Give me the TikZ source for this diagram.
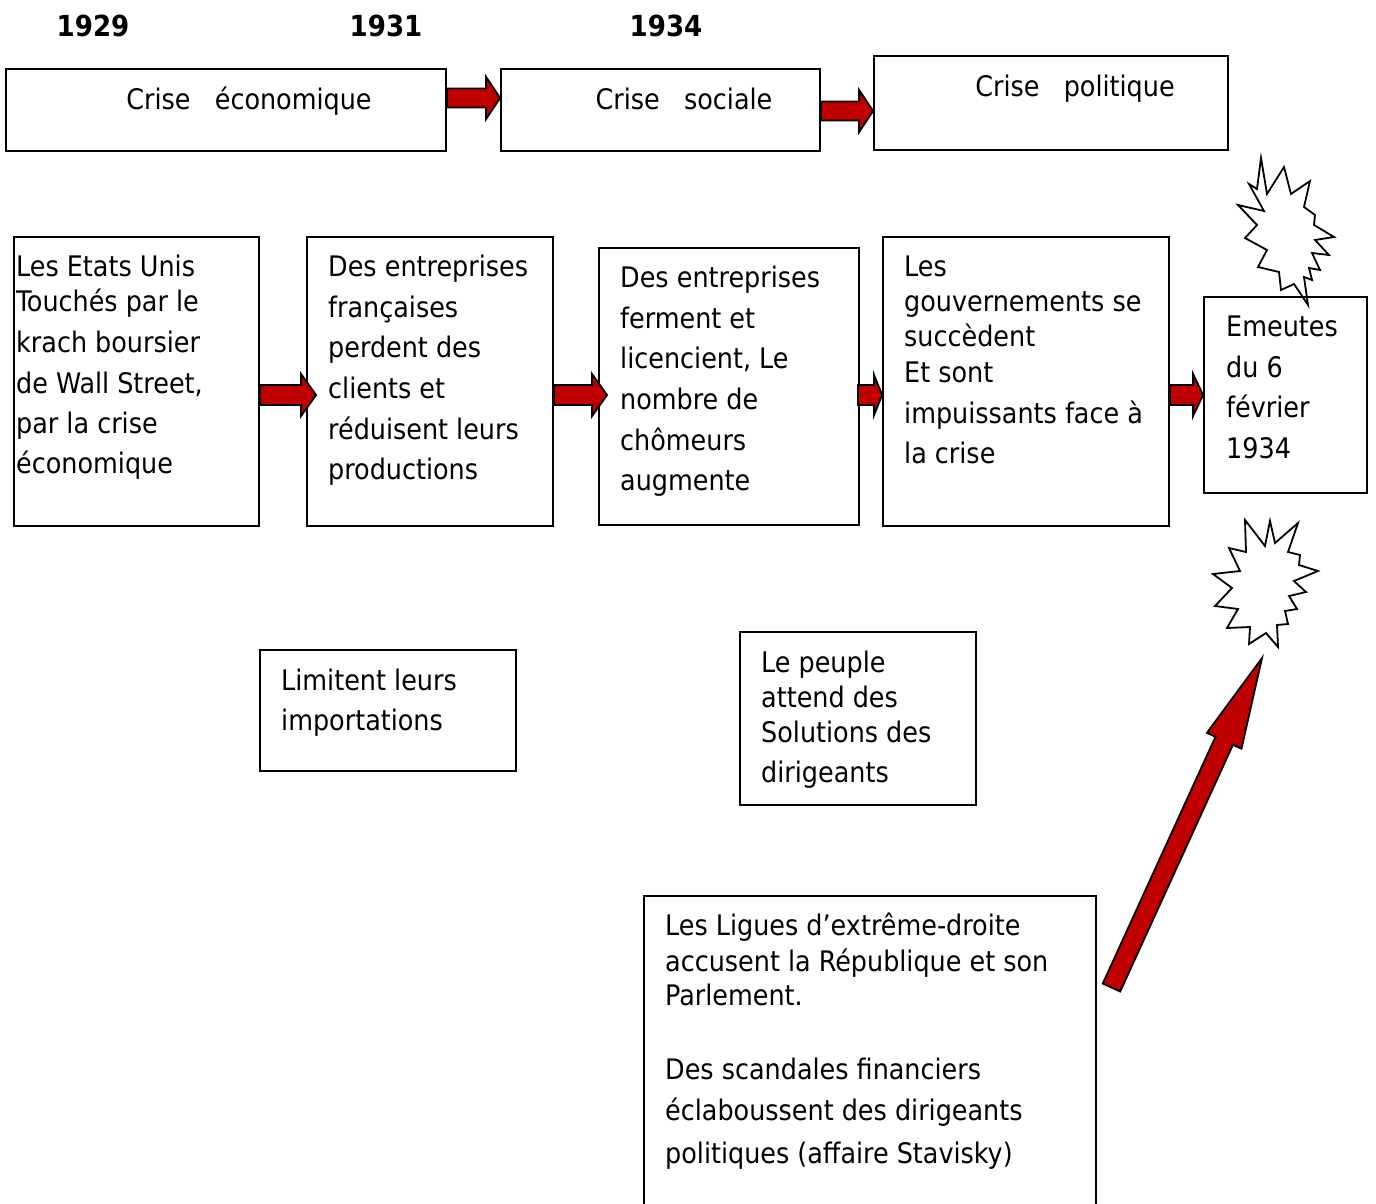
\documentclass[tikz,border=0pt]{standalone}
\usepackage{fontspec}
\setmainfont{DejaVu Sans Condensed}
\usetikzlibrary{calc}
\definecolor{arrowred}{HTML}{C00000}

% text line helper: prefix, left x, list of y/text
\newcommand\txtlines[3]{%
  \foreach \yy/\ll [count=\k] in {#3}{\node[txt] (#1-\k) at (#2,\yy+10.5) {\ll};}}

% block arrow: start, end, shaft half width, head half width, head length
\newcommand\fatarrow[5]{%
  \coordinate (fa-n) at ($(#2)!#5!(#1)$);
  \draw[fat] ($(#1)!#3!90:(#2)$) -- ($(fa-n)!#3!-90:(#1)$) -- ($(fa-n)!#4!-90:(#1)$)
    -- (#2) -- ($(fa-n)!#4!90:(#1)$) -- ($(fa-n)!#3!90:(#1)$)
    -- ($(#1)!#3!-90:(#2)$) -- cycle;}

\begin{document}
\begin{tikzpicture}[x=1pt,y=-1pt,
  box/.style={draw, line width=1.8pt, inner sep=0pt},
  txt/.style={anchor=base west, inner sep=0pt, font=\fontsize{28.3}{33}\selectfont},
  title/.style={anchor=base, inner sep=0pt, font=\fontsize{28.3}{33}\selectfont},
  year/.style={anchor=base, inner sep=0pt, font=\fontsize{29}{33}\selectfont\bfseries},
  fat/.style={draw=black, fill=arrowred, line width=1.8pt, line join=miter},
  burst/.style={draw=black, fill=white, line width=1.8pt, line join=miter}]
\useasboundingbox (0,0) rectangle (1376,1203);

% years
\node[year] (y1929) at (93,36) {1929};
\node[year] (y1931) at (386,36) {1931};
\node[year] (y1934) at (666,36) {1934};

% top row: the three crises
\node[box, minimum width=440pt, minimum height=82pt] (eco) at (226,110) {};
\node[box, minimum width=319pt, minimum height=82pt] (soc) at (660.5,110) {};
\node[box, minimum width=354pt, minimum height=94pt] (pol) at (1051,103) {};
\node[title] (eco-t) at (249,109) {Crise\ \ \ économique};
\node[title] (soc-t) at (684,109) {Crise\ \ \ sociale};
\node[title] (pol-t) at (1075,96) {Crise\ \ \ politique};

\coordinate (t1s) at (eco.east |- 0,98);
\coordinate (t1e) at (soc.west |- 0,98);
\fatarrow{t1s}{t1e}{9.5pt}{21pt}{14pt}
\coordinate (t2s) at (soc.east |- 0,111);
\coordinate (t2e) at (pol.west |- 0,111);
\fatarrow{t2s}{t2e}{9.5pt}{21pt}{14pt}

% explosion bursts
\draw[burst] (1261,158) -- (1267,194) -- (1284,167) -- (1291,194) -- (1310,181)
  -- (1304,207) -- (1315,215) -- (1314,225) -- (1334,237) -- (1315,240)
  -- (1329,255) -- (1312,253) -- (1320,270) -- (1309,268) -- (1312,280)
  -- (1304,277) -- (1308,305) -- (1294,284) -- (1281,290) -- (1279,272)
  -- (1258,267) -- (1267,250) -- (1245,238) -- (1257,225) -- (1238,205)
  -- (1264,211) -- (1249,184) -- (1257,189) -- cycle;
\draw[burst] (1245,520) -- (1246,552) -- (1229,548) -- (1240,571) -- (1213,574)
  -- (1232,588) -- (1215,606) -- (1238,609) -- (1227,628) -- (1250,627)
  -- (1249,644) -- (1266,633) -- (1278,647) -- (1277,625) -- (1288,624)
  -- (1285,611) -- (1297,609) -- (1289,596) -- (1306,592) -- (1294,581)
  -- (1318,571) -- (1299,565) -- (1300,555) -- (1288,552) -- (1298,523)
  -- (1275,543) -- (1270,521) -- (1265,546) -- cycle;

% second row: chain of events
\node[box, minimum width=245pt, minimum height=289pt] (usa) at (136.5,381.5) {};
\node[box, minimum width=246pt, minimum height=289pt] (entr) at (430,381.5) {};
\node[box, minimum width=260pt, minimum height=277pt] (chom) at (729,386.5) {};
\node[box, minimum width=286pt, minimum height=289pt] (gouv) at (1026,381.5) {};
\node[box, minimum width=163pt, minimum height=196pt] (emeu) at (1285.5,395) {};

\txtlines{usa}{16}{266/Les Etats Unis, 301/Touchés par le, 342/krach boursier,
  383/{de Wall Street,}, 423/par la crise, 463/économique}
\txtlines{entr}{328}{266/Des entreprises, 307/françaises, 347/perdent des,
  388/clients et, 429/réduisent leurs, 469/productions}
\txtlines{chom}{620}{277/Des entreprises, 318/ferment et, 358/{licencient, Le},
  399/nombre de, 440/chômeurs, 480/augmente}
\txtlines{gouv}{904}{266/Les, 301/gouvernements se, 336/succèdent,
  372/Et sont, 413/impuissants face à, 453/la crise}
\txtlines{emeu}{1226}{326/Emeutes, 367/du 6, 407/février, 448/1934}

\coordinate (r1s) at (usa.east |- 0,395);
\coordinate (r1e) at ($(entr.west |- 0,395)+(10,0)$);
\fatarrow{r1s}{r1e}{10pt}{21pt}{15pt}
\coordinate (r2s) at (entr.east |- 0,395);
\coordinate (r2e) at ($(chom.west |- 0,395)+(9,0)$);
\fatarrow{r2s}{r2e}{10pt}{21pt}{15pt}
\coordinate (r3s) at ($(chom.east |- 0,395)+(-2,0)$);
\coordinate (r3e) at (gouv.west |- 0,395);
\fatarrow{r3s}{r3e}{10pt}{20pt}{8pt}
\coordinate (r4s) at (gouv.east |- 0,395);
\coordinate (r4e) at (emeu.west |- 0,395);
\fatarrow{r4s}{r4e}{10pt}{21pt}{10pt}

% lower boxes
\node[box, minimum width=256pt, minimum height=121pt] (impo) at (388,710.5) {};
\txtlines{impo}{281}{680/Limitent leurs, 720/importations}
\node[box, minimum width=236pt, minimum height=173pt] (peup) at (858,718.5) {};
\txtlines{peup}{761}{662/Le peuple, 697/attend des, 732/Solutions des, 772/dirigeants}

\node[inner sep=0pt, minimum width=452pt, minimum height=324pt] (ligu) at (870,1058) {};
\draw[line width=1.8pt] (ligu.south west) -- (ligu.north west) -- (ligu.north east) -- (ligu.south east);
\txtlines{ligu}{665}{925/Les Ligues d’extrême-droite, 961/accusent la République et son,
  995/Parlement., 1069/Des scandales financiers, 1110/éclaboussent des dirigeants,
  1153/politiques (affaire Stavisky)}

% rising arrow towards the second burst
\coordinate (bigtail) at (1111.5,987.5);
\coordinate (bigtip) at (1262,658);
\fatarrow{bigtail}{bigtip}{9.6pt}{19pt}{91pt}
\end{tikzpicture}
\end{document}
